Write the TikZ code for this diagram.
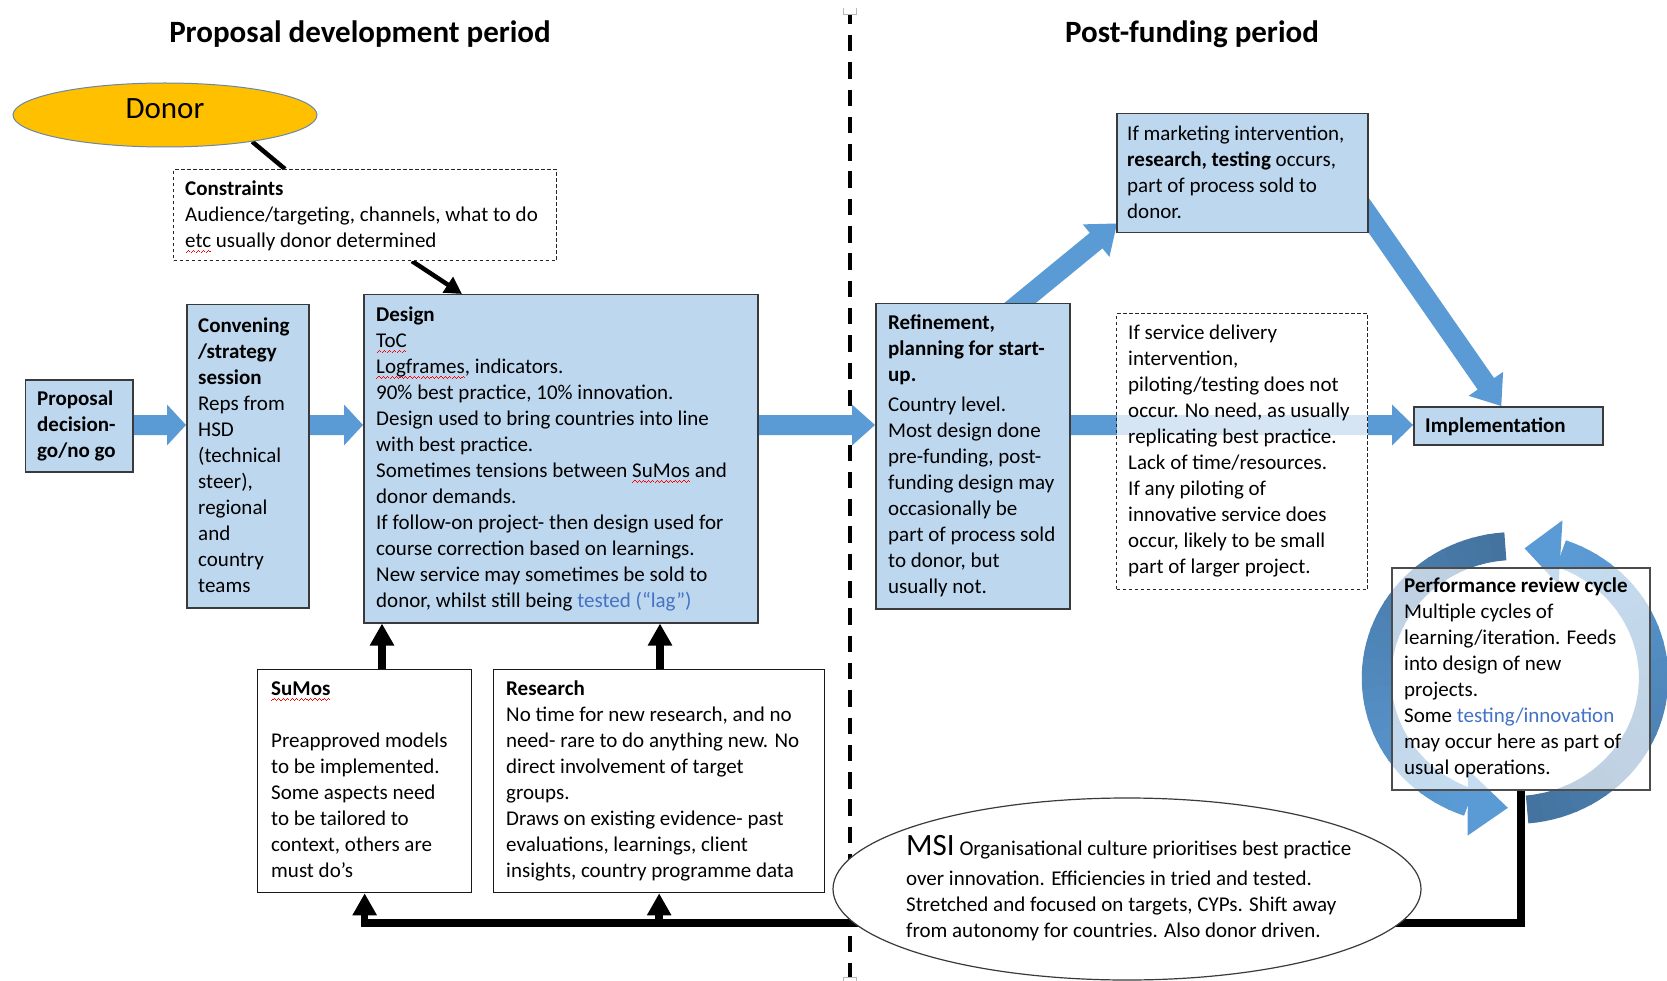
\documentclass[tikz,border=0pt]{standalone}
\usepackage{fontspec}
\setmainfont{Carlito}
\usetikzlibrary{calc,shapes.geometric,arrows.meta}
\pgfdeclarelayer{bg}
\pgfsetlayers{bg,main}

\definecolor{boxblue}{HTML}{BDD7EE}
\definecolor{arrowblue}{HTML}{5B9BD5}
\definecolor{ringdark}{HTML}{44739F}
\definecolor{ringlight}{HTML}{5B9BD5}
\definecolor{linkblue}{HTML}{4472C4}
\definecolor{donorgold}{HTML}{FFC000}
\definecolor{donoredge}{HTML}{6A86A8}
\definecolor{edgegray}{HTML}{3A3A3A}

\newcommand\bodyfont{\fontsize{21}{26}\selectfont}
\newcommand\titlefont{\fontsize{31}{37}\selectfont\bfseries}
\newcommand\bigfont{\fontsize{31}{37}\selectfont}
\newcommand\fl{\rule{0pt}{24pt}}
\newcommand\lnk[1]{\textcolor{linkblue}{#1}}
% red wavy spelling mark under a word, built from tiny rules
\newsavebox\sperrbox
\newcommand\wavepiece{\rule[-6pt]{1.1pt}{0.9pt}\rule[-5pt]{1.1pt}{0.9pt}\rule[-4pt]{1.1pt}{0.9pt}\rule[-5pt]{1.1pt}{0.9pt}}
\newcommand\sperr[1]{\sbox\sperrbox{#1}\rlap{\smash{\makebox[\wd\sperrbox][l]{\color{red}\xleaders\hbox{\wavepiece}\hfill}}}\usebox\sperrbox}

% filled block arrow: start, tip, shaft half width, head half width, head length
\newcommand\blockarrow[5]{%
  \coordinate (ba-s) at (#1);
  \coordinate (ba-e) at (#2);
  \coordinate (ba-b) at ($(ba-e)!#5!(ba-s)$);
  \fill[arrowblue] ($(ba-s)!#3!90:(ba-e)$) -- ($(ba-b)!#3!90:(ba-e)$) -- ($(ba-b)!#4!90:(ba-e)$)
    -- (ba-e) -- ($(ba-b)!#4!-90:(ba-e)$) -- ($(ba-b)!#3!-90:(ba-e)$) -- ($(ba-s)!#3!-90:(ba-e)$) -- cycle;}

\tikzset{
  bluebox/.style={draw=edgegray, line width=1.5pt, fill=boxblue, inner sep=0pt, anchor=north west},
  dashbox/.style={draw=black!85, line width=1.1pt, dash pattern=on 3.5pt off 2.5pt, fill=white, fill opacity=0.75, inner sep=0pt, anchor=north west},
  whitebox/.style={draw=black!90, line width=1.3pt, fill=white, inner sep=0pt, anchor=north west},
  cyclebox/.style={draw=black!70, line width=1.5pt, fill=white, fill opacity=0.65, inner sep=0pt, anchor=north west},
  bodytext/.style={anchor=north west, inner sep=0pt, align=left, font=\bodyfont, text=black},
  feed/.style={line width=7.5pt, draw=black, line join=miter, -{Triangle[width=23pt,length=22pt]}},
}

\begin{document}
\begin{tikzpicture}[x=1pt, y=-1pt]
\useasboundingbox (0,0) rectangle (1667,981);

% ---------- headings ----------
\node[font=\titlefont, anchor=base] (title-l) at (360,43) {Proposal development period};
\node[font=\titlefont, anchor=base] (title-r) at (1192,43) {Post-funding period};

% ---------- donor and constraints ----------
\node[ellipse, draw=donoredge, line width=1pt, fill=donorgold, minimum width=304pt, minimum height=64pt, inner sep=0pt] (donor) at (165,115) {};
\node[font=\bigfont, anchor=base] (donor-t) at ($(donor.center)+(0,4)$) {Donor};

\node[dashbox, fill opacity=1, minimum width=383pt, minimum height=91pt] (constraints) at (173,169) {};
\node[bodytext] (constraints-t) at ($(constraints.north west)+(12,2)$)
  {\fl\textbf{Constraints}\\ Audience/targeting, channels, what to do\\ \sperr{etc} usually donor determined};

% ---------- proposal development boxes ----------
\node[bluebox, minimum width=107.5pt, minimum height=92pt] (proposal) at (24.5,379) {};
\node[bodytext] (proposal-t) at ($(proposal.north west)+(12.5,2)$)
  {\fl\textbf{Proposal}\\ \textbf{decision-}\\ \textbf{go/no go}};

\node[bluebox, minimum width=122pt, minimum height=303pt] (convening) at (186,304) {};
\node[bodytext] (convening-t) at ($(convening.north west)+(12,4)$)
  {\fl\textbf{Convening}\\ \textbf{/strategy}\\ \textbf{session}\\ Reps from\\ HSD\\ (technical\\ steer),\\ regional\\ and\\ country\\ teams};

\node[bluebox, minimum width=394pt, minimum height=328pt] (design) at (363,294) {};
\node[bodytext] (design-t) at ($(design.north west)+(13,3)$)
  {\fl\textbf{Design}\\ \sperr{ToC}\\ \sperr{Logframes}, indicators.\\ 90\% best practice, 10\% innovation.\\
   Design used to bring countries into line\\ with best practice.\\ Sometimes tensions between \sperr{SuMos} and\\
   donor demands.\\ If follow-on project- then design used for\\ course correction based on learnings.\\
   New service may sometimes be sold to\\ donor, whilst still being \lnk{tested (“lag”)}};

\node[whitebox, minimum width=214pt, minimum height=223pt] (sumos) at (257,669) {};
\node[bodytext] (sumos-t) at ($(sumos.north west)+(14,2)$)
  {\fl\textbf{\sperr{SuMos}}\\[26pt] Preapproved models\\ to be implemented.\\ Some aspects need\\ to be tailored to\\ context, others are\\ must do’s};

\node[whitebox, minimum width=331pt, minimum height=223pt] (research) at (493,669) {};
\node[bodytext] (research-t) at ($(research.north west)+(13,2)$)
  {\fl\textbf{Research}\\ No time for new research, and no\\ need- rare to do anything new. No\\ direct involvement of target\\ groups.\\
   Draws on existing evidence- past\\ evaluations, learnings, client\\ insights, country programme data};

% ---------- post-funding boxes ----------
\node[bluebox, minimum width=194pt, minimum height=305pt] (refinement) at (875,303) {};
\node[bodytext] (refinement-t) at ($(refinement.north west)+(13,2)$)
  {\fl\textbf{Refinement,}\\ \textbf{planning for start-}\\ \textbf{up.}\\[4pt] Country level.\\ Most design done\\ pre-funding, post-\\
   funding design may\\ occasionally be\\ part of process sold\\ to donor, but\\ usually not.};

\node[bluebox, minimum width=251pt, minimum height=119pt] (marketing) at (1116,113) {};
\node[bodytext] (marketing-t) at ($(marketing.north west)+(11,3)$)
  {\fl If marketing intervention,\\ \textbf{research, testing} occurs,\\ part of process sold to\\ donor.};

\node[dashbox, minimum width=251pt, minimum height=276pt] (service) at (1116,313) {};
\node[bodytext] (service-t) at ($(service.north west)+(12,2)$)
  {\fl If service delivery\\ intervention,\\ piloting/testing does not\\ occur. No need, as usually\\ replicating best practice.\\
   Lack of time/resources.\\ If any piloting of\\ innovative service does\\ occur, likely to be small\\ part of larger project.};

\node[bluebox, minimum width=189pt, minimum height=38pt] (implementation) at (1413,406) {};
\node[bodytext] (implementation-t) at ($(implementation.north west)+(12,2)$) {\fl\textbf{Implementation}};

\node[cyclebox, minimum width=258pt, minimum height=222pt] (perf) at (1391,567) {};
\node[bodytext] (perf-t) at ($(perf.north west)+(13,1)$)
  {\fl\textbf{Performance review cycle}\\ Multiple cycles of\\ learning/iteration. Feeds\\ into design of new\\ projects.\\
   Some \lnk{testing/innovation}\\ may occur here as part of\\ usual operations.};

\node[ellipse, draw=edgegray, line width=1.2pt, fill=white, minimum width=588pt, minimum height=182pt, inner sep=0pt] (msi) at (1127,889) {};
\node[bodytext] (msi-t) at ($(msi.center)+(-221,-58)$)
  {\fl{\bigfont MSI} Organisational culture prioritises best practice\\[4pt] over innovation. Efficiencies in tried and tested.\\
   Stretched and focused on targets, CYPs. Shift away\\ from autonomy for countries. Also donor driven.};

% ---------- everything behind the boxes ----------
\begin{pgfonlayer}{bg}
  \fill[white] (0,0) rectangle (1667,981);

  % period divider
  \coordinate (dv-top) at (850,15);
  \coordinate (dv-bot) at (850,977);
  \draw[line width=3.5pt, dash pattern=on 16.5pt off 10.8pt, dash phase=7.3pt] (dv-top) -- (dv-bot);
  \draw[gray!55, line width=1pt] (843,8) -- (843,15) -- (856,15) -- (856,8);
  \draw[gray!55, line width=1pt] (843,981) -- (843,977) -- (856,977) -- (856,981);

  % main flow
  \coordinate (ay) at (0,425);
  \blockarrow{proposal.east |- ay}{convening.west |- ay}{10pt}{20.5pt}{19pt}
  \blockarrow{convening.east |- ay}{design.west |- ay}{10pt}{20.5pt}{19pt}
  \blockarrow{design.east |- ay}{refinement.west |- ay}{10pt}{20.5pt}{23pt}
  \blockarrow{refinement.east |- ay}{implementation.west |- ay}{10pt}{20.5pt}{21pt}
  \blockarrow{$(refinement.north)+(29,15)$}{$(marketing.south west)+(1,-10)$}{10pt}{21pt}{27pt}
  \blockarrow{$(marketing.east)+(-27,3)$}{$(implementation.north)+(-7,0)$}{10pt}{21pt}{27pt}

  % review cycle arrows
  \begin{scope}[shift={(1515,678)}, xscale=1.05]
    \foreach \i in {0,...,25}{
      \pgfmathsetmacro\aa{266-6*\i}
      \pgfmathsetmacro\am{\aa-3.3}
      \pgfmathsetmacro\ab{\aa-6.6}
      \pgfmathsetmacro\pc{100-4*\i}
      \fill[ringdark!\pc!ringlight] (\aa:146) -- (\am:146) -- (\ab:146) -- (\ab:118) -- (\am:118) -- (\aa:118) -- cycle;
    }
    \fill[ringlight] (116:102) -- (106:164) -- (93:130) -- cycle;
    \foreach \i in {0,...,24}{
      \pgfmathsetmacro\aa{85-6.2*\i}
      \pgfmathsetmacro\am{\aa-3.4}
      \pgfmathsetmacro\ab{\aa-6.8}
      \pgfmathsetmacro\pc{100-100*\i/24}
      \fill[ringdark!\pc!ringlight] (\aa:146) -- (\am:146) -- (\ab:146) -- (\ab:118) -- (\am:118) -- (\aa:118) -- cycle;
    }
    \fill[ringlight] (-66:102) -- (-74:164) -- (-86:130) -- cycle;
  \end{scope}

  % black connectors
  \coordinate (dcx) at (285,0);
  \coordinate (c1) at (412,0);
  \coordinate (c2) at (462,0);
  \coordinate (sx) at (382,0);
  \coordinate (rx) at (660,0);
  \coordinate (fb) at (0,923);
  \draw[line width=4.5pt] (donor.-17) -- (constraints.north -| dcx);
  \draw[line width=4.5pt, -{Triangle[width=18pt,length=17pt]}] (constraints.south -| c1) -- (design.north -| c2);
  \draw[feed] (sumos.north -| sx) -- (design.south -| sx);
  \draw[feed] (research.north -| rx) -- (design.south -| rx);
  \draw[feed] (perf.south) -- (perf.south |- fb) -- (sumos.south |- fb) -- (sumos.south);
  \draw[feed] (research.south |- fb) -- (research.south);
\end{pgfonlayer}
\end{tikzpicture}
\end{document}
